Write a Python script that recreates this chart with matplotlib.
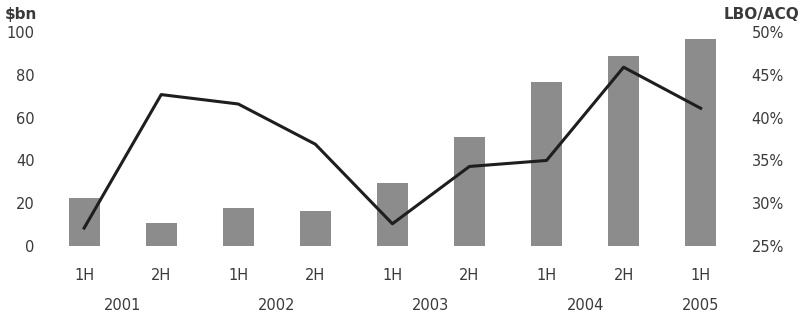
import matplotlib.pyplot as plt
import matplotlib.transforms as mtransforms

halves = ['1H', '2H', '1H', '2H', '1H', '2H', '1H', '2H', '1H']
years = ['2001', '2002', '2003', '2004', '2005']
year_pos = [0.5, 2.5, 4.5, 6.5, 8]
volume_bn = [22.6, 10.6, 17.9, 16.2, 29.4, 50.8, 76.8, 88.9, 96.7]
lbo_acq = [27.1, 42.7, 41.6, 36.9, 27.6, 34.3, 35.0, 45.9, 41.1]

plt.rcParams['font.family'] = ['DejaVu Sans']
plt.rcParams['font.size'] = 10.5
txt = '#3a3a3a'

fig = plt.figure(figsize=(8, 3.15), dpi=100)
ax = fig.add_axes([0.057, 0.219, 0.867, 0.679])
x = range(len(volume_bn))
ax.bar(x, volume_bn, width=0.4, color='#8c8c8c', zorder=1)
ax.set_xlim(-0.5, 8.5)
ax.set_ylim(0, 100)
ax.set_yticks([0, 20, 40, 60, 80, 100])
ax.set_xticks(list(x))
ax.set_xticklabels(halves)
ax.tick_params(axis='x', length=0, pad=16, colors=txt)
ax.tick_params(axis='y', length=0, pad=8, colors=txt)

# year labels below the half-year labels
trans = mtransforms.blended_transform_factory(ax.transData, fig.transFigure)
for pos, yr in zip(year_pos, years):
    ax.text(pos, 0.03, yr, transform=trans, ha='center', va='center', color=txt)

ax2 = ax.twinx()
ax2.plot(x, lbo_acq, color='#1e1e1e', lw=2.2, zorder=3)
ax2.set_ylim(25, 50)
ax2.set_yticks([25, 30, 35, 40, 45, 50])
ax2.set_yticklabels([f'{v}%' for v in [25, 30, 35, 40, 45, 50]])
ax2.tick_params(axis='y', length=0, pad=9, colors=txt)

for a in (ax, ax2):
    for s in a.spines.values():
        s.set_visible(False)

fig.text(0.006, 0.955, '$bn', fontweight='bold', color=txt, fontsize=11, va='center')
fig.text(0.999, 0.955, 'LBO/ACQ', fontweight='bold', color=txt, fontsize=11, va='center', ha='right')

fig.savefig('out.png', dpi=100)
